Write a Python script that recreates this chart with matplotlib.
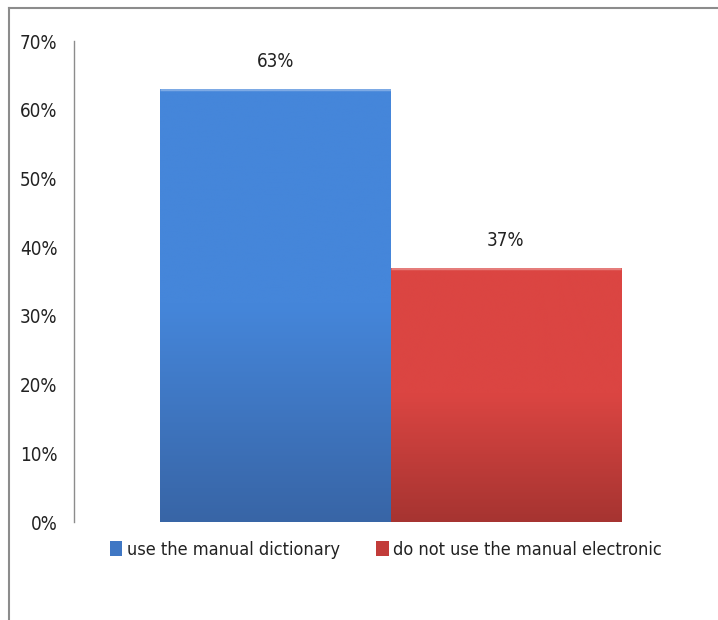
import matplotlib
matplotlib.use("Agg")
import matplotlib.pyplot as plt
from matplotlib import font_manager
from matplotlib.patches import Patch
from matplotlib.colors import LinearSegmentedColormap
import numpy as np

categories = ["use the manual dictionary", "do not use the manual electronic"]
values = [63, 37]
value_labels = ["63%", "37%"]
yticks = [0, 10, 20, 30, 40, 50, 60, 70]
ytick_labels = ["0%", "10%", "20%", "30%", "40%", "50%", "60%", "70%"]

# find a narrow/condensed regular font
cand = []
for f in font_manager.fontManager.ttflist:
    fn = f.fname.lower()
    if ("narrow" in fn or "condensed" in fn) and "bold" not in fn and "italic" not in fn \
            and "oblique" not in fn and "mono" not in fn and "serif" not in fn.replace("sans", ""):
        cand.append(f.fname)
cand.sort(key=lambda p: (0 if "liberation" in p.lower() else 1 if "dejavu" in p.lower() else 2, p))
if cand:
    fp_path = cand[0]
    base_size = 14.5 if "liberation" in fp_path.lower() else 13.5
    def FP(size):
        return font_manager.FontProperties(fname=fp_path, size=size)
else:
    base_size = 12
    def FP(size):
        return font_manager.FontProperties(family="DejaVu Sans", size=size)

top_colors = ["#4586da", "#db4542"]
bot_colors = ["#3865a6", "#a63431"]
legend_colors = ["#3f77c4", "#c23c3a"]

fig = plt.figure(figsize=(7.18, 6.2), dpi=100)
ax = fig.add_axes([74/718, (620-522)/620, (707-74)/718, (522-41)/620])

pos = np.arange(len(values))
bars = ax.bar(pos, values, width=1.0, color=top_colors, edgecolor="none", zorder=2)

for b, tc, bc in zip(bars, top_colors, bot_colors):
    cmap = LinearSegmentedColormap.from_list("g", [bc, tc, tc])
    grad = np.linspace(0, 1, 256).reshape(-1, 1)
    x0, w, h = b.get_x(), b.get_width(), b.get_height()
    im = ax.imshow(grad, cmap=cmap, origin="lower", aspect="auto",
                   extent=[x0, x0 + w, 0, h], zorder=3, interpolation="bicubic")
    im.set_clip_path(b)
    ax.plot([x0, x0 + w], [h, h], color="white", alpha=0.3, lw=2.5, zorder=4,
            solid_capstyle="butt")

for p, v, lab in zip(pos, values, value_labels):
    ax.annotate(lab, (p, v), xytext=(0, 13), textcoords="offset points",
                ha="center", va="bottom", fontproperties=FP(base_size), color="#222222")

ax.set_xlim(-0.5 - 86/230, len(values) - 0.5 + 86/230)
ax.set_ylim(0, 70)
ax.set_yticks(yticks)
ax.set_yticklabels(ytick_labels, color="#222222")
for t in ax.get_yticklabels():
    t.set_fontproperties(FP(base_size))
ax.tick_params(axis="y", length=0, pad=12)
ax.set_xticks([])
for s in ["top", "right", "bottom"]:
    ax.spines[s].set_visible(False)
ax.spines["left"].set_color("#8c8c8c")
ax.spines["left"].set_linewidth(1.0)

handles = [Patch(facecolor=c, edgecolor="none") for c in legend_colors]
fig.legend(handles, categories, loc="center", bbox_to_anchor=(386/718, 1 - 550/620),
           ncol=2, frameon=False, prop=FP(base_size - 0.5), handlelength=0.7, handleheight=0.9,
           handletextpad=0.25, columnspacing=2.0, labelcolor="#222222")

fig.add_artist(plt.Line2D([9/718, 9/718], [0, 1 - 8/620], color="#8c8c8c", lw=1.5,
                          transform=fig.transFigure))
fig.add_artist(plt.Line2D([9/718, 1], [1 - 8/620, 1 - 8/620], color="#8c8c8c", lw=1.5,
                          transform=fig.transFigure))

fig.savefig("out.png", dpi=100)
